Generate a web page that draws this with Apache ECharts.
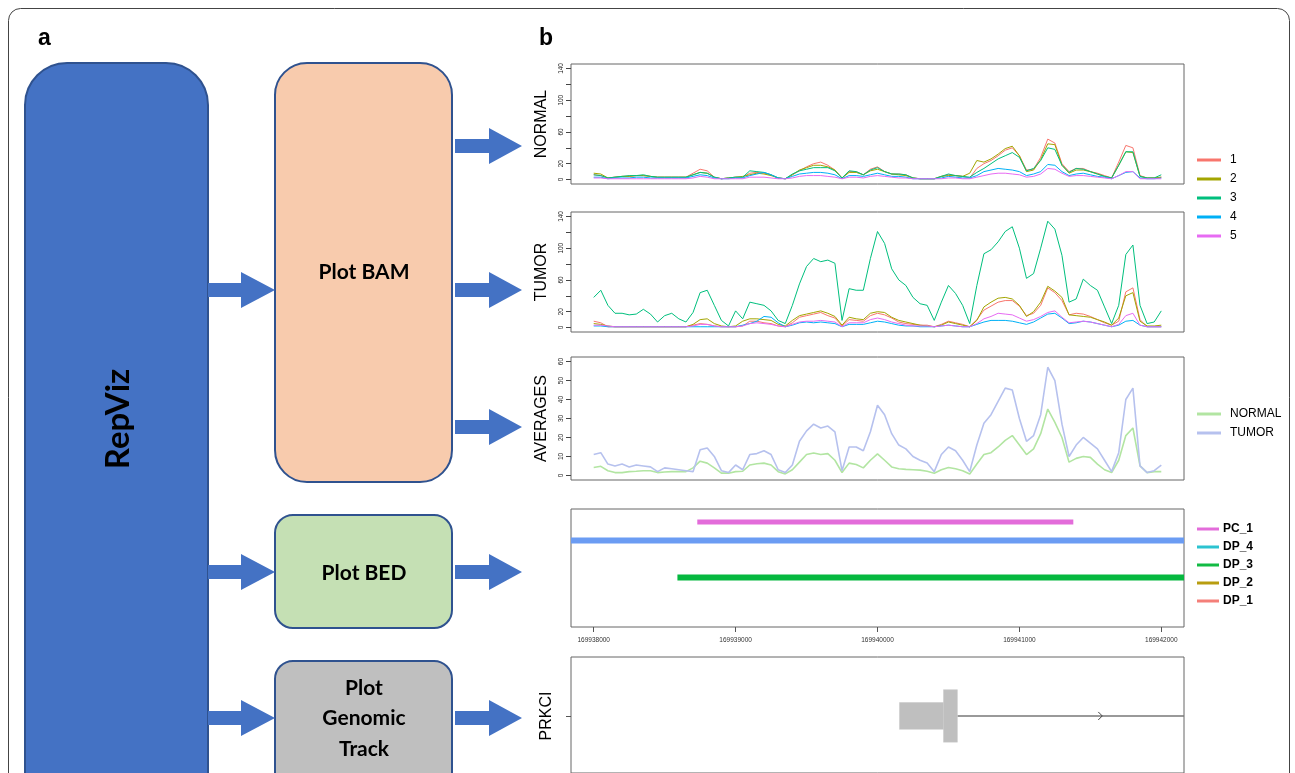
<!DOCTYPE html>
<html><head><meta charset="utf-8">
<script src="https://cdn.jsdelivr.net/npm/echarts@6/dist/echarts.min.js"></script>
<style>html,body{margin:0;padding:0;background:#fff}#c{width:1295px;height:773px}</style>
</head><body><div id="c"></div>
<script>
// ---------- data ----------
const positionStart = 169938000;
const positionStep = 50;
const replicateNames = ['1', '2', '3', '4', '5'];
const replicateColors = ['#F8766D', '#A3A500', '#00BF7D', '#00B0F6', '#E76BF3'];

const normal1 = [6,5,2,3,4,4,5,5,4,3, 3,3,3,3,8,13,11,3,1,2, 3,3,8,9,8,6,2,1,6,11, 16,20,22,18,12,2,10,10,6,13, 16,10,7,7,6,2,1,1,1,4, 6,5,4,2,14,20,24,30,37,40, 30,12,13,28,51,46,20,10,14,14, 10,8,5,2,22,43,40,5,2,2, 3];
const normal2 = [8,7,2,3,4,4,5,5,4,3, 3,3,3,3,6,9,8,3,1,2, 3,4,6,8,7,5,2,1,6,12, 15,18,18,16,12,2,9,9,6,11, 13,10,7,6,5,2,1,1,1,4, 5,5,4,8,24,22,26,32,39,42, 30,10,12,25,45,44,18,8,12,12, 10,7,4,2,18,35,34,4,2,2, 3];
const normal3 = [6,5,2,3,4,5,5,6,4,3, 3,3,3,3,6,9,8,3,1,2, 3,3,11,10,9,6,2,1,7,11, 13,15,15,15,11,2,11,10,6,12, 15,10,7,7,6,2,1,1,1,4, 7,5,4,3,9,14,20,26,30,34, 28,11,14,24,40,38,18,9,14,13, 10,7,4,2,18,35,35,4,2,2, 6];
const normal4 = [3,3,1,2,2,2,3,3,2,2, 2,2,2,2,4,6,5,2,1,1, 2,2,5,7,9,6,2,1,4,7, 8,9,9,8,6,1,5,5,4,6, 8,6,4,4,3,1,1,1,1,2, 4,3,2,2,5,10,12,14,13,12, 10,5,7,10,19,18,10,5,7,8, 6,4,3,1,5,9,10,2,1,1, 2];
const normal5 = [2,2,1,1,1,1,1,1,1,1, 1,1,1,1,2,4,3,1,1,1, 1,1,3,3,3,2,1,1,2,4, 5,5,5,4,3,1,3,3,2,4, 5,4,3,2,2,1,1,1,1,1, 2,2,1,1,3,5,7,8,8,7, 6,3,4,7,14,13,8,4,5,5, 4,3,2,1,5,10,10,1,1,1, 1];

const tumor1 = [8,6,1,1,1,1,1,1,1,1, 1,1,1,1,3,5,4,2,1,1, 1,2,8,8,6,5,2,1,6,13, 15,17,19,15,12,2,10,9,8,15, 18,16,12,7,5,4,3,3,1,4, 8,6,4,1,10,22,27,32,34,34, 27,15,18,28,50,44,34,16,18,17, 14,10,6,3,8,45,50,10,1,1, 1];
const tumor2 = [5,4,2,1,1,1,1,1,1,1, 1,1,1,1,4,10,11,5,2,1, 2,8,11,11,10,9,4,2,9,15, 17,19,21,18,14,3,13,11,10,18, 20,19,13,9,7,5,3,2,1,3, 7,5,3,1,9,26,32,37,38,36, 28,14,20,32,52,46,38,16,15,14, 13,10,7,3,12,40,44,8,2,2, 3];
const tumor3 = [38,47,28,18,18,16,17,23,17,7, 15,18,11,7,19,44,47,28,9,2, 21,11,32,30,28,21,9,5,28,55, 77,87,83,85,81,9,49,47,47,87, 121,106,74,60,53,38,30,28,9,32, 53,43,28,5,53,93,98,108,121,127, 100,62,68,100,134,124,91,32,36,61, 53,47,26,5,28,92,104,28,5,7, 21];
const tumor4 = [2,2,1,1,1,1,1,1,1,1, 1,1,1,1,1,1,1,1,1,1, 1,3,5,8,14,13,6,1,3,6, 7,6,7,6,5,1,4,4,4,6, 8,7,5,3,2,2,1,1,1,2, 3,2,1,1,4,7,9,9,9,8, 6,4,7,12,17,18,12,5,6,8, 7,5,3,1,3,8,9,3,1,1, 1];
const tumor5 = [3,3,2,1,1,1,1,1,1,1, 1,1,1,1,2,4,4,2,1,1, 1,2,5,6,5,4,2,1,4,7, 8,8,9,8,7,1,6,6,6,10, 12,10,7,5,3,2,2,2,1,2, 3,2,1,1,5,11,14,18,17,16, 12,8,10,14,19,21,13,6,7,8, 7,5,3,1,4,15,18,3,1,1, 1];

const avgNormal = [4.2,4.8,2.5,1.5,1.5,2,2.2,2.5,2.5,1.5, 1.8,2,2,2,4,7.5,6.5,4,1.2,1.2, 2,2.2,5.5,6.2,6.5,5.5,2,0.8,3,7, 11,11.8,11,11.5,8,1.5,6.5,5.8,4,8, 11.4,8,4.5,3.5,3.2,3,2.8,2.2,1.2,3, 4.2,3.5,2.5,0.8,6,11,12,15,18.5,21, 16,11,14,22,35,28,20,7,9,10, 9.5,6,3,1.5,8,21,25,5,1.5,2, 2];
const avgTumor = [11,12,6,5,6,4.5,5.5,5,4.5,2, 4,3.5,3,2.5,2,13.5,14.5,10,2.5,1.5, 5.5,3,11,11.5,13,11,3,1.5,5.5,18, 23.5,27,25,26,23,2.5,15,15,13,23, 37,32,22,16,14,10,8,6.5,2,11, 15,13,8,2,16,27.5,32,39,46,45, 30,18,21,32,57,50,27,10,16,20, 17,14,8,2,12,40,46,5,1.5,2.5, 5.5];

const countTicks = [0, 20, 40, 60, 80, 100, 120, 140];
const countLabels = [0, 20, 60, 100, 140];
const avgTicks = [0, 10, 20, 30, 40, 50, 60];
const genomeTicks = [169938000, 169939000, 169940000, 169941000, 169942000];

const bedNames = ['PC_1', 'DP_4', 'DP_3', 'DP_2', 'DP_1'];
const bedStart = [169938730, 169937000, 169938590, null, null];
const bedEnd = [169941380, 169943500, 169943500, null, null];
const bedLane = [1, 2, 4, null, null];
const bedLineColors = ['#E36CDA', '#6B9CF3', '#05B83F', '#B89D10', '#F47F79'];
const bedLegendColors = ['#E36CDA', '#2CC3D0', '#12BB44', '#B89D10', '#F47F79'];

const geneName = 'PRKCI';
const exonStart = [169940155, 169940465];
const exonEnd = [169940465, 169940563];
const exonThick = [0, 1];
const intronStart = 169940563;
const intronEnd = 169943500;
const strandArrowAt = 169941577;

// ---------- layout ----------
const X_MIN = 169937840, X_MAX = 169942160;
const GL = 571, GW = 613;
const FONT = '"Liberation Sans", Arial, sans-serif';
const positions = tumor3.map((_, i) => positionStart + i * positionStep);
const pair = arr => arr.map((v, i) => [positions[i], v]);

const grids = [
  {left: GL, width: GW, top: 64, height: 120},
  {left: GL, width: GW, top: 212, height: 120},
  {left: GL, width: GW, top: 357, height: 123},
  {left: GL, width: GW, top: 509, height: 118},
  {left: GL, width: GW, top: 657, height: 122}
].map(g => Object.assign(g, {show: true, borderColor: '#666', borderWidth: 1, backgroundColor: 'transparent'}));

const xAxes = grids.map((g, i) => ({
  type: 'value', gridIndex: i, min: X_MIN, max: X_MAX,
  show: i === 3,
  axisLine: {show: false}, splitLine: {show: false},
  axisTick: {show: true, length: 5, customValues: genomeTicks, lineStyle: {color: '#555'}},
  axisLabel: {show: true, customValues: genomeTicks, formatter: v => String(v), fontSize: 6.5, color: '#333', margin: 10, fontFamily: FONT}
}));

function countAxis(i, name, min, max, ticks, labels) {
  return {
    type: 'value', gridIndex: i, min, max,
    name, nameLocation: 'middle', nameGap: 21,
    nameTextStyle: {fontSize: 16, color: '#000', fontFamily: FONT},
    axisLine: {show: false}, splitLine: {show: false},
    axisTick: {show: true, length: 5, customValues: ticks, lineStyle: {color: '#444'}},
    axisLabel: {customValues: labels, rotate: 90, fontSize: 6.5, color: '#222', margin: 6, fontFamily: FONT}
  };
}
const yAxes = [
  countAxis(0, 'NORMAL', -5.6, 145.6, countTicks, countLabels),
  countAxis(1, 'TUMOR', -5.6, 145.6, countTicks, countLabels),
  countAxis(2, 'AVERAGES', -2.4, 62.4, avgTicks, avgTicks),
  {type: 'value', gridIndex: 3, min: 0.3, max: 6.68, inverse: true, show: false},
  {type: 'value', gridIndex: 4, min: -1, max: 1.033,
   axisLine: {show: false}, splitLine: {show: false},
   axisTick: {show: true, length: 5, customValues: [0], lineStyle: {color: '#555'}},
   axisLabel: {customValues: [0], formatter: () => geneName, rotate: 90, fontSize: 16, color: '#000', margin: 16, fontFamily: FONT}}
];

const series = [];
const normals = [normal1, normal2, normal3, normal4, normal5];
const tumors = [tumor1, tumor2, tumor3, tumor4, tumor5];
[normals, tumors].forEach((group, gi) => {
  group.forEach((arr, k) => {
    series.push({
      type: 'line', name: replicateNames[k], xAxisIndex: gi, yAxisIndex: gi,
      data: pair(arr), showSymbol: false, symbol: 'none', color: replicateColors[k],
      lineStyle: {width: 1, color: replicateColors[k]}, silent: true, clip: true
    });
  });
});
series.push({type: 'line', name: 'NORMAL', xAxisIndex: 2, yAxisIndex: 2, data: pair(avgNormal),
  showSymbol: false, symbol: 'none', color: '#B2E5A2', lineStyle: {width: 1.6, color: '#B2E5A2'}});
series.push({type: 'line', name: 'TUMOR', xAxisIndex: 2, yAxisIndex: 2, data: pair(avgTumor),
  showSymbol: false, symbol: 'none', color: '#B6C1EE', lineStyle: {width: 1.6, color: '#B6C1EE'}});

// horizontal segment renderer clamped to the plot box
function segmentRenderer(color, width) {
  return function (params, api) {
    const cs = params.coordSys;
    const a = api.coord([api.value(0), api.value(2)]);
    const b = api.coord([api.value(1), api.value(2)]);
    const x0 = Math.max(a[0], cs.x), x1 = Math.min(b[0], cs.x + cs.width);
    if (x1 <= x0) return null;
    return {type: 'line', shape: {x1: x0, y1: a[1], x2: x1, y2: a[1]}, style: {stroke: color, lineWidth: width, lineCap: 'butt'}};
  };
}

const bedWidths = [5, 6, 6, 6, 6];
bedNames.forEach((nm, k) => {
  const d = bedStart[k] == null ? [] : [[bedStart[k], bedEnd[k], bedLane[k]]];
  series.push({type: 'custom', name: nm, xAxisIndex: 3, yAxisIndex: 3, data: d,
    color: bedLegendColors[k], renderItem: segmentRenderer(bedLineColors[k], bedWidths[k])});
});

series.push({type: 'custom', xAxisIndex: 4, yAxisIndex: 4, z: 1,
  data: [[intronStart, intronEnd, 0]], renderItem: segmentRenderer('#777', 1.5)});
series.push({type: 'custom', xAxisIndex: 4, yAxisIndex: 4, clip: true, z: 3,
  data: exonStart.map((s, k) => [s, exonEnd[k], exonThick[k]]),
  renderItem(params, api) {
    const half = api.value(2) ? 0.46 : 0.235;
    const p0 = api.coord([api.value(0), half]);
    const p1 = api.coord([api.value(1), -half]);
    return {type: 'rect', shape: {x: p0[0], y: p0[1], width: p1[0] - p0[0], height: p1[1] - p0[1]},
      style: {fill: '#BFBFBF', stroke: '#C8C8C8', lineWidth: 0.5}};
  }});
series.push({type: 'custom', xAxisIndex: 4, yAxisIndex: 4, clip: true, z: 3,
  data: [[strandArrowAt, 0]],
  renderItem(params, api) {
    const p = api.coord([api.value(0), api.value(1)]);
    return {type: 'polyline', shape: {points: [[p[0] - 3, p[1] - 4], [p[0] + 1, p[1]], [p[0] - 3, p[1] + 4]]},
      style: {stroke: '#444', lineWidth: 1, fill: null}};
  }});

const legendBase = {
  orient: 'vertical', left: 1197, padding: 0, icon: 'rect', itemWidth: 24, itemHeight: 3, itemGap: 5,
  selectedMode: false,
  textStyle: {fontSize: 12, lineHeight: 14, color: '#000', fontFamily: FONT, padding: [0, 0, 0, 4]}
};
const legends = [
  Object.assign({}, legendBase, {data: replicateNames, top: 153}),
  Object.assign({}, legendBase, {data: ['NORMAL', 'TUMOR'], top: 407}),
  Object.assign({}, legendBase, {data: bedNames.map((n, k) => ({name: n, itemStyle: {color: bedLegendColors[k]}})),
    top: 522, itemWidth: 22, itemGap: 4,
    textStyle: {fontSize: 12, lineHeight: 14, color: '#000', fontWeight: 'bold', fontFamily: FONT, padding: [0, 0, 0, -1]}})
];

// ---------- diagram (panel a) ----------
const BLUE = '#4472C4', EDGE = '#2F528F';
const BOXFONT = 'bold 21px Lato, "Liberation Sans", sans-serif';
function leftArrow(cy) {
  return {type: 'polygon', shape: {points: [[208, cy - 7], [241, cy - 7], [241, cy - 18], [275, cy], [241, cy + 18], [241, cy + 7], [208, cy + 7]]}, style: {fill: BLUE}};
}
function rightArrow(cy) {
  return {type: 'polygon', shape: {points: [[455, cy - 7], [489, cy - 7], [489, cy - 18], [522, cy], [489, cy + 18], [489, cy + 7], [455, cy + 7]]}, style: {fill: BLUE}};
}
function boxText(t, x, y) {
  return {type: 'text', x, y, style: {text: t, font: BOXFONT, fill: '#000', align: 'center', verticalAlign: 'middle'}};
}
const graphic = [
  {type: 'rect', shape: {x: 8.5, y: 8.5, width: 1281, height: 820, r: 12}, style: {fill: 'none', stroke: '#444', lineWidth: 1}},
  {type: 'text', x: 38, y: 50, style: {text: 'a', font: 'bold 23px "Liberation Sans", Arial', fill: '#000', verticalAlign: 'bottom'}},
  {type: 'text', x: 539, y: 50, style: {text: 'b', font: 'bold 23px "Liberation Sans", Arial', fill: '#000', verticalAlign: 'bottom'}},
  {type: 'rect', shape: {x: 25, y: 63, width: 183, height: 780, r: 42}, style: {fill: BLUE, stroke: EDGE, lineWidth: 2}},
  {type: 'text', x: 118, y: 419, rotation: Math.PI / 2, style: {text: 'RepViz', font: 'bold 33px Lato, "Liberation Sans", sans-serif', fill: '#000', align: 'center', verticalAlign: 'middle'}},
  {type: 'rect', shape: {x: 275, y: 63, width: 177, height: 419, r: 32}, style: {fill: '#F8CBAD', stroke: EDGE, lineWidth: 2}},
  boxText('Plot BAM', 364, 272),
  {type: 'rect', shape: {x: 275, y: 515, width: 177, height: 113, r: 18}, style: {fill: '#C5E0B4', stroke: EDGE, lineWidth: 2}},
  boxText('Plot BED', 364, 573),
  {type: 'rect', shape: {x: 275, y: 661, width: 177, height: 140, r: 18}, style: {fill: '#BFBFBF', stroke: EDGE, lineWidth: 2}},
  boxText('Plot', 364, 688), boxText('Genomic', 364, 718), boxText('Track', 364, 749),
  leftArrow(290), leftArrow(572), leftArrow(718),
  rightArrow(146), rightArrow(290), rightArrow(427), rightArrow(572), rightArrow(718)
];

const chart = echarts.init(document.getElementById('c'), null, {renderer: 'canvas'});
chart.setOption({
  animation: false,
  backgroundColor: '#fff',
  grid: grids, xAxis: xAxes, yAxis: yAxes,
  legend: legends, series, graphic
});
</script></body></html>
